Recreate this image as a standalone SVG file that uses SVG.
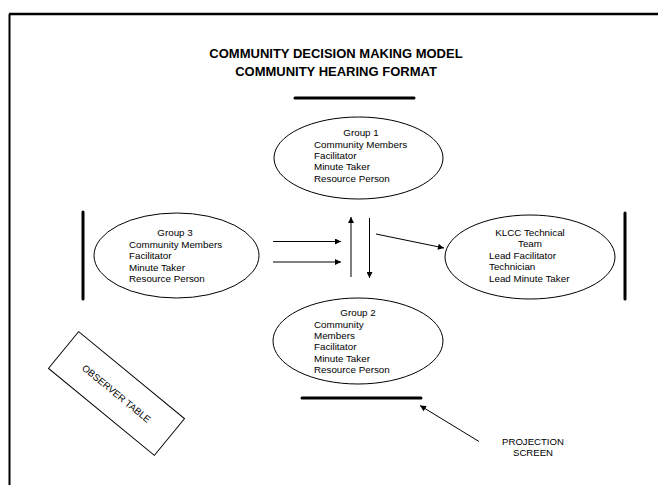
<svg xmlns="http://www.w3.org/2000/svg" width="658" height="485" viewBox="0 0 658 485">
<style>
text{font-family:"Liberation Sans",Arial,sans-serif;fill:#000}
.t{font-size:13px;font-weight:bold;text-anchor:middle}
.n{font-size:9.8px}
.c{text-anchor:middle}
.s{font-size:9.6px}
ellipse,.box{fill:#fff;stroke:#000;stroke-width:1}
.bar{stroke:#000;stroke-width:3;stroke-linecap:round}
.ln{stroke:#000;stroke-width:1;fill:none;marker-end:url(#ah)}
</style>
<defs>
<marker id="ah" viewBox="0 0 10 10" refX="10" refY="5" markerWidth="8" markerHeight="6" markerUnits="userSpaceOnUse" orient="auto">
<path d="M0,0L10,5L0,10z" fill="#000"/>
</marker>
</defs>
<rect width="658" height="485" fill="#fff"/>
<g id="frame">
<line x1="9" y1="14" x2="658" y2="14" stroke="#000" stroke-width="2.5"/>
<line x1="9.5" y1="14" x2="9.5" y2="485" stroke="#000" stroke-width="2"/>
</g>
<g id="title">
<text class="t" x="336" y="57.5">COMMUNITY DECISION MAKING MODEL</text>
<text class="t" x="336" y="76">COMMUNITY HEARING FORMAT</text>
</g>
<g id="bars">
<line class="bar" x1="295" y1="98" x2="414" y2="98"/>
<line class="bar" x1="302" y1="398" x2="421" y2="398"/>
<line class="bar" x1="83" y1="212" x2="83" y2="299"/>
<line class="bar" x1="625" y1="213" x2="625" y2="299"/>
</g>
<g id="group1">
<ellipse cx="358.5" cy="158" rx="84.5" ry="41"/>
<text class="n c" x="361" y="136">Group 1</text>
<text class="n" x="314" y="147.5">Community Members</text>
<text class="n" x="314" y="158.5">Facilitator</text>
<text class="n" x="314" y="170">Minute Taker</text>
<text class="n" x="314" y="181.5">Resource Person</text>
</g>
<g id="group3">
<ellipse cx="176.5" cy="255.5" rx="82.5" ry="42.5"/>
<text class="n c" x="175" y="236">Group 3</text>
<text class="n" x="129" y="247.5">Community Members</text>
<text class="n" x="129" y="259">Facilitator</text>
<text class="n" x="129" y="270.5">Minute Taker</text>
<text class="n" x="129" y="282">Resource Person</text>
</g>
<g id="klcc">
<ellipse cx="530" cy="257" rx="85" ry="42"/>
<text class="n c" x="530" y="236">KLCC Technical</text>
<text class="n c" x="530" y="247">Team</text>
<text class="n" x="489" y="258.5">Lead Facilitator</text>
<text class="n" x="489" y="270">Technician</text>
<text class="n" x="489" y="281.5">Lead Minute Taker</text>
</g>
<g id="group2">
<ellipse cx="358" cy="341" rx="85" ry="43"/>
<text class="n c" x="358" y="316">Group 2</text>
<text class="n" x="314" y="327.5">Community</text>
<text class="n" x="314" y="339">Members</text>
<text class="n" x="314" y="350">Facilitator</text>
<text class="n" x="314" y="361.5">Minute Taker</text>
<text class="n" x="314" y="373">Resource Person</text>
</g>
<g id="observer">
<rect class="box" x="-68.5" y="-23.75" width="137" height="47.5" transform="translate(116.5,393.5) rotate(39.4)"/>
<text class="s c" x="0" y="3.5" transform="translate(116.5,393.5) rotate(39.4)">OBSERVER TABLE</text>
</g>
<g id="projection">
<text class="s c" x="533" y="445">PROJECTION</text>
<text class="s c" x="533" y="455.5">SCREEN</text>
</g>
<g id="connectors">
<line class="ln" x1="273" y1="241.5" x2="341" y2="241.5"/>
<line class="ln" x1="273" y1="262" x2="341" y2="262"/>
<line class="ln" x1="351" y1="277" x2="351" y2="217"/>
<line class="ln" x1="369.5" y1="218" x2="369.5" y2="278"/>
<line class="ln" x1="376" y1="234" x2="444" y2="248"/>
<line class="ln" x1="479" y1="441.5" x2="420" y2="405.5"/>
</g>
</svg>
